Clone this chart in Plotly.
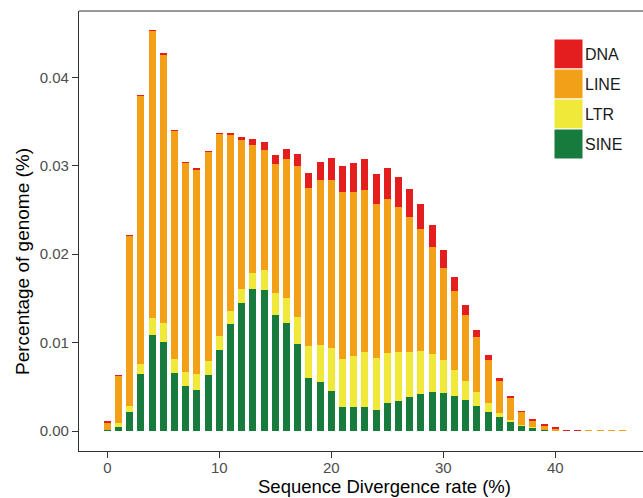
import plotly.graph_objects as go

divergence = list(range(47))

sine = [0.00015, 0.00049, 0.00218, 0.00648, 0.01086, 0.01007, 0.00656, 0.00509, 0.00464, 0.00633,
        0.00916, 0.01210, 0.01448, 0.01606, 0.01595, 0.01312, 0.01222, 0.00984, 0.00600, 0.00554,
        0.00452, 0.00271, 0.00271, 0.00271, 0.00238, 0.00317, 0.00339, 0.00385, 0.00419, 0.00441,
        0.00430, 0.00396, 0.00351, 0.00283, 0.00215, 0.00158, 0.00102, 0.00057, 0.00034, 0.00011,
        0.00002, 0.00005, 0.00005, 0.0, 0.0, 0.0, 0.0]

ltr = [0.0, 0.00045, 0.00068, 0.00110, 0.00192, 0.00215, 0.00158, 0.00158, 0.00181, 0.00159,
       0.00159, 0.00147, 0.00158, 0.00181, 0.00226, 0.00249, 0.00283, 0.00306, 0.00362, 0.00419,
       0.00487, 0.00543, 0.00577, 0.00623, 0.00588, 0.00565, 0.00555, 0.00509, 0.00486, 0.00430,
       0.00373, 0.00294, 0.00215, 0.00158, 0.00102, 0.00046, 0.00022, 0.00011, 0.00006, 0.0,
       0.0, 0.0, 0.0, 0.0, 0.0, 0.0, 0.0]

line = [0.00085, 0.00531, 0.01924, 0.03032, 0.03247, 0.03036, 0.02581, 0.02366, 0.02309, 0.02365,
        0.02285, 0.01991, 0.01686, 0.01448, 0.01358, 0.01459, 0.01572, 0.01708, 0.01787, 0.01866,
        0.01900, 0.01890, 0.01856, 0.01832, 0.01742, 0.01742, 0.01640, 0.01527, 0.01380, 0.01210,
        0.01041, 0.00894, 0.00746, 0.00622, 0.00486, 0.00362, 0.00249, 0.00147, 0.00084, 0.00046,
        0.00021, 0.0, 0.0, 0.00004, 0.00004, 0.00003, 0.00003]

dna = [0.00004, 0.00008, 0.00007, 0.00010, 0.00011, 0.00010, 0.00010, 0.00010, 0.00010, 0.00010,
       0.00011, 0.00026, 0.00037, 0.00070, 0.00091, 0.00102, 0.00113, 0.00135, 0.00170, 0.00204,
       0.00249, 0.00294, 0.00328, 0.00351, 0.00339, 0.00351, 0.00339, 0.00317, 0.00283, 0.00249,
       0.00204, 0.00158, 0.00113, 0.00080, 0.00057, 0.00034, 0.00023, 0.00011, 0.00012, 0.00011,
       0.00011, 0.00006, 0.00006, 0.0, 0.0, 0.0, 0.0]

series_names = ["SINE", "LTR", "LINE", "DNA"]
series_values = [sine, ltr, line, dna]
series_colors = {"DNA": "#E41E1F", "LINE": "#F3A019", "LTR": "#F0E93A", "SINE": "#167B3D"}
legend_order = ["DNA", "LINE", "LTR", "SINE"]

x_ticks = [0, 10, 20, 30, 40]
y_ticks = [0.00, 0.01, 0.02, 0.03, 0.04]

FONT = "Liberation Sans, Arial, Helvetica, sans-serif"
W, H = 643, 498
ML, MR, MT, MB = 79, 0, 11, 47
PW, PH = W - ML - MR, H - MT - MB

def px_x(p):
    return (p - ML) / PW

def px_y(p):
    return (H - MB - p) / PH

fig = go.Figure()
for name, vals in zip(series_names, series_values):
    fig.add_trace(go.Bar(
        x=divergence, y=vals, name=name, width=0.63,
        marker=dict(color=series_colors[name], line=dict(width=0)),
        showlegend=False,
    ))

shapes = [dict(type="line", xref="paper", yref="paper", x0=0, x1=1, y0=1, y1=1,
               line=dict(color="#333333", width=1.2))]
annotations = []
box_top = 39
box_h = 30
for k, name in enumerate(legend_order):
    t = box_top + k * box_h
    shapes.append(dict(type="rect", xref="paper", yref="paper",
                       x0=px_x(554), x1=px_x(583), y0=px_y(t + box_h), y1=px_y(t),
                       fillcolor=series_colors[name], line=dict(color="white", width=1)))
    annotations.append(dict(text=name, xref="paper", yref="paper", x=px_x(583), y=px_y(t + box_h / 2),
                            xanchor="left", yanchor="middle", showarrow=False,
                            font=dict(family=FONT, size=16, color="#1a1a1a")))

annotations.append(dict(text="Sequence Divergence rate (%)", xref="paper", yref="paper",
                        x=px_x(384), y=px_y(486), xanchor="center", yanchor="middle",
                        showarrow=False, font=dict(family=FONT, size=18.5, color="black")))
annotations.append(dict(text="Percentage of genome (%)", xref="paper", yref="paper",
                        x=px_x(22), y=px_y(262), xanchor="center", yanchor="middle", textangle=-90,
                        showarrow=False, font=dict(family=FONT, size=19, color="black")))

x0 = (ML - 107.3) / 11.2
fig.update_layout(
    width=W, height=H,
    margin=dict(l=ML, r=MR, t=MT, b=MB, pad=0),
    barmode="stack",
    plot_bgcolor="white", paper_bgcolor="white",
    font=dict(family=FONT),
    shapes=shapes, annotations=annotations,
    xaxis=dict(range=[x0, x0 + PW / 11.2], tickvals=x_ticks, ticktext=[str(v) for v in x_ticks],
               showgrid=False, zeroline=False, showline=True, linecolor="#333333", linewidth=1.2,
               ticks="outside", ticklen=6, tickcolor="#333333", tickwidth=1.2,
               ticklabelstandoff=-3,
               tickfont=dict(family=FONT, size=15, color="#4D4D4D")),
    yaxis=dict(range=[-20 / 8840, -20 / 8840 + PH / 8840], tickvals=y_ticks,
               ticktext=["%.2f" % v for v in y_ticks],
               showgrid=False, zeroline=False, showline=True, linecolor="#333333", linewidth=1.2,
               ticks="outside", ticklen=6, tickcolor="#333333", tickwidth=1.2,
               tickfont=dict(family=FONT, size=15, color="#4D4D4D")),
)

fig.write_html("out.html", config={"displayModeBar": False},
               post_script="document.body.style.margin='0';document.body.style.overflow='hidden';")
